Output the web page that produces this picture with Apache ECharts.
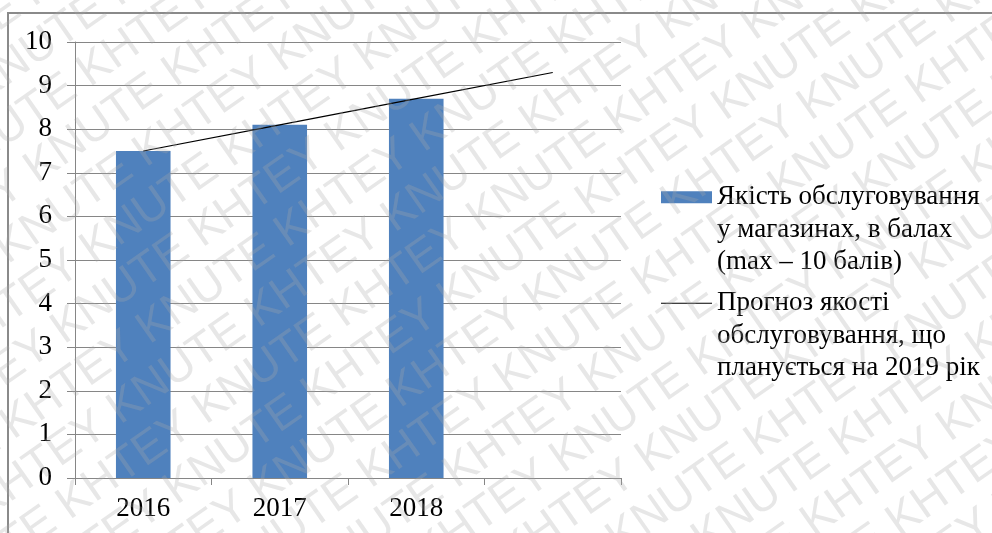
<!DOCTYPE html>
<html>
<head>
<meta charset="utf-8">
<script src="https://cdn.jsdelivr.net/npm/echarts@6/dist/echarts.min.js"></script>
<style>
  html, body { margin: 0; padding: 0; background: #ffffff; }
  #chart { width: 992px; height: 533px; }
</style>
</head>
<body>
<div id="chart"></div>
<script>
// Years on the category axis (the fourth slot is the forecast year, left unlabeled)
const years = ['2016', '2017', '2018', ''];
// Service quality score in shops, points out of 10
const serviceScores = [7.5, 8.1, 8.7, null];
// Forecast trend of service quality through 2019
const forecastScores = [7.5, 8.1, 8.7, 9.3];
// Value axis range
const yMin = 0, yMax = 10, yStep = 1;

const barSeriesName = 'Якість обслуговування у магазинах, в балах (max – 10 балів)';
const lineSeriesName = 'Прогноз якості обслуговування, що планується на 2019 рік';
// Two leading blank lines keep the first text line level with the legend swatch
const barLegendText = '\n\nЯкість обслуговування\nу магазинах, в балах\n(max – 10 балів)';
const lineLegendText = '\n\nПрогноз якості\nобслуговування, що\nпланується на 2019 рік';

const serif = "'Liberation Serif', 'Times New Roman', serif";
const axisGrey = '#868686';

// Diagonal repeating watermark
const wmRows = [];
const wmLine = 'KHTEY KNUTE '.repeat(12);
for (let i = -12; i <= 12; i++) {
  wmRows.push({
    type: 'text',
    x: -900 + (i % 2 === 0 ? 0 : 70),
    y: i * 49,
    z: 100,
    silent: true,
    style: {
      text: wmLine,
      fontSize: 46,
      fontFamily: "'Liberation Sans', Arial, sans-serif",
      fill: 'rgba(170,170,170,0.28)',
      verticalAlign: 'middle'
    }
  });
}

const legendText = {
  fontFamily: serif,
  fontSize: 27,
  lineHeight: 32.5,
  color: '#000000'
};

const chart = echarts.init(document.getElementById('chart'), null, { renderer: 'canvas' });
chart.setOption({
  backgroundColor: '#ffffff',
  animation: false,
  grid: { left: 75, right: 371, top: 42, bottom: 55, containLabel: false },
  legend: [
    {
      data: [{ name: barSeriesName, icon: 'rect' }],
      left: 661, top: 116, padding: 0,
      itemWidth: 51, itemHeight: 12,
      selectedMode: false,
      formatter: () => barLegendText,
      textStyle: legendText
    },
    {
      data: [{ name: lineSeriesName, icon: 'rect' }],
      left: 661, top: 222, padding: 0,
      itemWidth: 51, itemHeight: 1.2,
      selectedMode: false,
      formatter: () => lineLegendText,
      textStyle: legendText
    }
  ],
  xAxis: {
    type: 'category',
    data: years,
    boundaryGap: true,
    axisLine: { show: true, lineStyle: { color: axisGrey, width: 1 } },
    axisTick: { show: true, length: 7, interval: 0, lineStyle: { color: axisGrey } },
    axisLabel: { interval: 0, margin: 17, fontFamily: serif, fontSize: 27, color: '#000000' },
    splitLine: { show: false }
  },
  yAxis: {
    type: 'value',
    min: yMin, max: yMax, interval: yStep,
    axisLine: { show: true, lineStyle: { color: axisGrey, width: 1 } },
    axisTick: { show: true, length: 8, lineStyle: { color: axisGrey } },
    axisLabel: { margin: 23, fontFamily: serif, fontSize: 27, color: '#000000' },
    splitLine: { show: true, lineStyle: { color: axisGrey, width: 1 } }
  },
  series: [
    {
      name: barSeriesName,
      type: 'bar',
      data: serviceScores,
      barWidth: '40%',
      itemStyle: { color: '#4F81BD' },
      z: 2
    },
    {
      name: lineSeriesName,
      type: 'line',
      data: forecastScores,
      symbol: 'none',
      showSymbol: false,
      itemStyle: { color: '#000000' },
      lineStyle: { color: '#000000', width: 1.2 },
      z: 3
    }
  ],
  graphic: [
    {
      type: 'polyline',
      silent: true,
      z: 50,
      shape: { points: [[8, 533], [8, 13], [992, 13]] },
      style: { stroke: '#8a8a8a', lineWidth: 2, fill: null }
    },
    {
      type: 'group',
      x: 496, y: 266,
      rotation: 35 * Math.PI / 180,
      silent: true,
      children: wmRows
    }
  ]
});
</script>
</body>
</html>
